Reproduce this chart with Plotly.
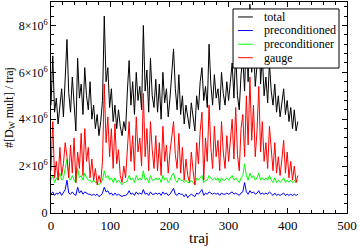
import plotly.graph_objects as go

traj = list(range(0, 420, 3))

total = [
    4.6, 6.7, 4.3, 4.9, 3.8, 4.6, 5.3, 4.1, 5.5, 7.4,
    5.1, 4.3, 5.8, 4.6, 3.5, 6.6, 4.9, 5.5, 4.2, 6.2,
    5.0, 4.4, 5.6, 4.0, 4.6, 3.6, 4.2, 3.3, 3.9, 4.8,
    8.4, 5.6, 6.2, 4.5, 5.3, 3.9, 4.6, 3.6, 4.4, 3.7,
    3.3, 3.9, 3.5, 5.2, 6.5, 4.6, 5.6, 4.2, 6.0, 4.8,
    5.4, 4.4, 8.0, 5.2, 6.1, 4.3, 6.6, 5.0, 4.5, 5.7,
    4.3, 5.5, 4.0, 6.0, 4.7, 5.3, 4.1, 4.9, 5.8, 7.0,
    5.3, 4.4, 5.9, 4.2, 5.0, 3.8, 4.6, 4.0, 3.6, 4.7,
    4.2, 3.5, 5.0, 4.4, 5.6, 6.2, 4.8, 5.4, 4.5, 7.2,
    5.5, 4.6, 5.9, 4.9, 5.3, 4.4, 6.0, 5.1, 4.6, 5.6,
    4.8, 5.5, 6.4, 4.9, 6.9, 5.0, 4.4, 5.9, 6.6, 5.2,
    7.8, 5.6, 8.9, 6.0, 7.4, 5.4, 6.3, 8.6, 5.5, 6.7,
    5.0, 5.8, 4.7, 6.4, 5.2, 4.6, 5.5, 4.3, 5.0, 4.1,
    4.7, 5.3, 4.2, 4.8, 3.9, 4.5, 3.6, 4.4, 3.5, 3.9,
]

preconditioned = [
    0.8, 0.9, 0.75, 0.85, 0.8, 0.9, 0.75, 0.85, 1.0, 1.4,
    0.85, 0.8, 0.9, 0.8, 0.75, 1.1, 0.85, 0.95, 0.8, 0.9,
    0.85, 0.8, 0.8, 0.75, 0.8, 0.75, 0.8, 0.7, 0.75, 0.85,
    1.1, 0.9, 0.95, 0.8, 0.85, 0.75, 0.85, 0.75, 0.8, 0.75,
    0.7, 0.75, 0.75, 0.8, 0.95, 0.8, 0.85, 0.75, 0.9, 0.8,
    0.85, 0.8, 1.0, 0.8, 0.85, 0.75, 0.9, 0.8, 0.8, 0.85,
    0.8, 0.85, 0.75, 0.9, 0.8, 0.85, 0.75, 0.8, 0.9, 1.05,
    0.8, 0.75, 0.85, 0.8, 0.8, 0.7, 0.8, 0.65, 0.75, 0.8,
    0.75, 0.7, 0.85, 0.8, 0.9, 1.0, 0.75, 0.85, 0.8, 0.9,
    0.85, 0.8, 0.85, 0.8, 0.85, 0.75, 0.85, 0.8, 0.8, 0.85,
    0.8, 0.85, 0.9, 0.8, 0.85, 0.8, 0.75, 0.85, 0.9, 1.3,
    0.9, 0.8, 0.95, 0.85, 0.9, 0.8, 0.85, 0.95, 0.8, 0.85,
    0.8, 0.85, 0.8, 0.9, 0.8, 0.75, 0.85, 0.75, 0.8, 0.75,
    0.8, 0.85, 0.75, 0.8, 0.75, 0.8, 0.75, 0.8, 0.75, 0.8,
]

preconditioner = [
    1.4, 1.6, 1.3, 1.5, 1.4, 1.7, 1.4, 1.5, 1.9, 2.3,
    1.5, 1.4, 1.6, 1.4, 1.3, 1.9, 1.5, 1.6, 1.4, 1.7,
    1.5, 1.4, 1.4, 1.3, 1.4, 1.3, 1.3, 1.2, 1.3, 1.4,
    1.8, 1.5, 1.6, 1.4, 1.5, 1.3, 1.5, 1.3, 1.4, 1.3,
    1.2, 1.3, 1.3, 1.4, 1.6, 1.4, 1.5, 1.3, 1.6, 1.4,
    1.5, 1.4, 1.8, 1.4, 1.5, 1.3, 1.6, 1.4, 1.4, 1.5,
    1.4, 1.5, 1.3, 1.6, 1.4, 1.5, 1.3, 1.4, 1.6, 1.7,
    1.4, 1.3, 1.5, 1.4, 1.4, 1.3, 1.4, 1.3, 1.3, 1.4,
    1.3, 1.2, 1.5, 1.4, 1.5, 1.6, 1.3, 1.4, 1.4, 1.6,
    1.5, 1.4, 1.5, 1.4, 1.5, 1.3, 1.5, 1.4, 1.4, 1.5,
    1.4, 1.5, 1.6, 1.4, 1.5, 1.4, 1.3, 1.5, 1.6, 2.1,
    1.6, 1.4, 1.7, 1.5, 1.6, 1.4, 1.5, 1.7, 1.4, 1.5,
    1.4, 1.5, 1.4, 1.6, 1.4, 1.3, 1.5, 1.3, 1.4, 1.3,
    1.4, 1.5, 1.3, 1.4, 1.3, 1.4, 1.3, 1.4, 1.3, 1.4,
]

gauge = [
    1.8, 3.9, 1.5, 2.2, 1.4, 2.8, 1.6, 2.1, 3.0, 2.4,
    1.5, 2.9, 1.7, 3.2, 1.3, 2.6, 1.9, 3.4, 1.6, 3.6,
    2.2, 2.8, 1.5, 2.3, 1.4, 1.9, 1.2, 1.6, 1.3, 2.2,
    5.5, 3.0, 4.1, 2.4, 3.6, 1.9, 3.8, 2.1, 2.7, 1.6,
    1.3, 2.0, 1.5, 2.5, 3.9, 2.2, 3.3, 1.8, 4.1, 2.6,
    3.2, 2.0, 5.1, 2.4, 3.6, 1.8, 3.9, 2.7, 1.9, 3.3,
    1.8, 3.0, 1.6, 3.7, 2.2, 2.9, 1.7, 2.6, 3.2, 3.9,
    2.5, 1.9, 3.4, 1.7, 2.8, 1.4, 2.3, 1.6, 1.3, 2.6,
    1.8, 1.2, 3.0, 2.1, 3.5, 4.3, 1.4, 3.2, 2.2, 4.6,
    2.8, 1.9, 3.7, 2.4, 3.1, 1.8, 3.9, 2.6, 1.9, 3.3,
    2.2, 3.0, 4.0, 2.3, 4.5, 2.5, 1.8, 3.6, 4.2, 2.4,
    5.0, 2.9, 5.8, 3.1, 4.6, 2.4, 3.5, 5.4, 2.6, 3.9,
    2.2, 3.0, 1.9, 3.7, 2.5, 1.8, 3.0, 1.7, 2.4, 1.6,
    2.3, 3.1, 1.7, 2.6, 1.5, 2.2, 1.4, 2.0, 1.3, 1.6,
]

y_tickvals = [0, 2e6, 4e6, 6e6, 8e6]
y_ticktext = ["0", "2×10<sup>6</sup>", "4×10<sup>6</sup>", "6×10<sup>6</sup>", "8×10<sup>6</sup>"]

scale = 1e6
series = [
    ("total", total, "black"),
    ("preconditioned", preconditioned, "blue"),
    ("preconditioner", preconditioner, "#00ff00"),
    ("gauge", gauge, "red"),
]

font = "Liberation Serif, Times New Roman, serif"

fig = go.Figure()
for name, vals, col in series:
    fig.add_trace(go.Scatter(
        x=traj, y=[v * scale for v in vals], mode="lines", name=name,
        line=dict(color=col, width=1), showlegend=False,
    ))

# Legend box built from shapes + annotations (paper coordinates)
box_x0, box_x1, box_y0, box_y1 = 0.615, 0.973, 0.687, 0.967
fig.add_shape(type="rect", xref="paper", yref="paper",
              x0=box_x0, x1=box_x1, y0=box_y0, y1=box_y1,
              line=dict(color="black", width=1), fillcolor="white", layer="above")
entry_y = [0.929, 0.865, 0.800, 0.736]
for (name, _, col), yy in zip(series, entry_y):
    fig.add_shape(type="line", xref="paper", yref="paper",
                  x0=0.632, x1=0.682, y0=yy, y1=yy,
                  line=dict(color=col, width=1), layer="above")
    fig.add_annotation(xref="paper", yref="paper", x=0.713, y=yy,
                       xanchor="left", yanchor="middle", text=name, showarrow=False,
                       font=dict(family=font, size=12, color="black"))

fig.update_layout(
    width=360, height=248,
    margin=dict(l=51, r=13, t=2, b=35, autoexpand=False),
    paper_bgcolor="white", plot_bgcolor="white",
    font=dict(family=font, size=12, color="black"),
    showlegend=False,
)
fig.update_xaxes(
    range=[0, 500], tickvals=[0, 100, 200, 300, 400, 500],
    automargin=False,
    showline=True, mirror="ticks", linecolor="black", linewidth=1,
    ticks="inside", ticklen=5, tickcolor="black",
    minor=dict(dtick=20, ticks="inside", ticklen=3, tickcolor="black"),
    showgrid=False, zeroline=False,
    tickfont=dict(family=font, size=13),
    title=dict(text="traj", font=dict(family=font, size=15), standoff=0),
)
fig.update_yaxes(
    range=[0, 9e6], tickvals=y_tickvals, ticktext=y_ticktext,
    automargin=False,
    showline=True, mirror="ticks", linecolor="black", linewidth=1,
    ticks="inside", ticklen=5, tickcolor="black",
    minor=dict(dtick=4e5, tick0=0, ticks="inside", ticklen=3, tickcolor="black"),
    showgrid=False, zeroline=False,
    tickfont=dict(family=font, size=12),
    title=dict(text="#[D<sub>W</sub> mult] / traj", font=dict(family=font, size=12), standoff=2),
)

fig.write_html(
    "out.html",
    config={"displayModeBar": False, "staticPlot": True},
    post_script="document.body.style.margin='0';document.body.style.overflow='hidden';",
)
